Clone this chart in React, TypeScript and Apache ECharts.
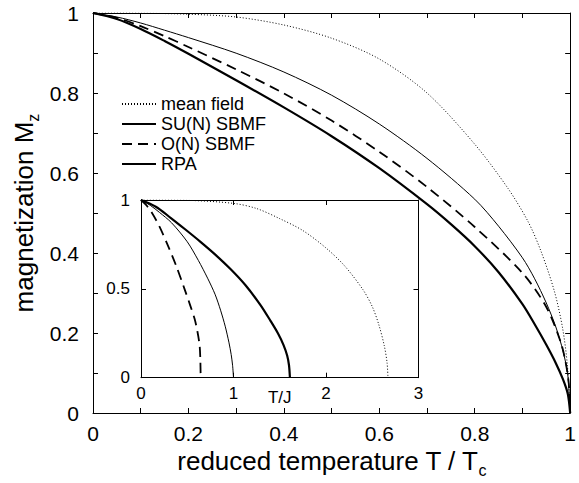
import React, { useEffect, useRef } from 'react';
import * as echarts from 'echarts';

const FONT = '"Liberation Sans", Arial, Helvetica, sans-serif';

// Main plot: reduced temperature T/Tc vs magnetization Mz
const mainMeanField: number[][] = [[0, 1], [0.1, 0.9995], [0.2, 0.997], [0.3, 0.99], [0.4, 0.97], [0.5, 0.937], [0.6, 0.885], [0.7, 0.8], [0.8, 0.672], [0.87, 0.561], [0.912, 0.478], [0.939, 0.404], [0.967, 0.304], [0.984, 0.213], [0.994, 0.122], [1, 0]];
const mainSUN: number[][] = [[0, 1], [0.05, 0.985], [0.1, 0.96], [0.15, 0.93], [0.2, 0.898], [0.3, 0.832], [0.4, 0.764], [0.5, 0.692], [0.6, 0.612], [0.7, 0.522], [0.75, 0.472], [0.8, 0.417], [0.85, 0.352], [0.9, 0.272], [0.925, 0.223], [0.95, 0.1705], [0.97, 0.1245], [0.985, 0.084], [0.995, 0.048], [1, 0]];
const mainON: number[][] = [[0, 1], [0.05, 0.988], [0.1, 0.967], [0.15, 0.942], [0.2, 0.915], [0.3, 0.859], [0.4, 0.799], [0.5, 0.731], [0.6, 0.653], [0.7, 0.565], [0.8, 0.465], [0.9, 0.35], [0.95, 0.265], [0.98, 0.178], [0.99, 0.13], [0.997, 0.075], [1, 0]];
const mainRPA: number[][] = [[0, 1], [0.05, 0.99], [0.1, 0.975], [0.15, 0.957], [0.2, 0.9385], [0.3, 0.8995], [0.4, 0.8525], [0.5, 0.7945], [0.6, 0.7225], [0.7, 0.6365], [0.8, 0.5345], [0.85, 0.467], [0.9, 0.388], [0.925, 0.337], [0.95, 0.275], [0.97, 0.215], [0.985, 0.155], [0.995, 0.095], [1, 0]];

// Inset: T/J vs magnetization
const insetMeanField: number[][] = [[0, 1], [0.5, 0.998], [1, 0.981], [1.25, 0.952], [1.5, 0.895], [1.75, 0.828], [2, 0.73], [2.2, 0.63], [2.4, 0.495], [2.5, 0.4], [2.57, 0.3], [2.63, 0.18], [2.66, 0.085], [2.67, 0]];
const insetSUN: number[][] = [[0, 1], [0.16, 0.962], [0.32, 0.9], [0.48, 0.834], [0.64, 0.766], [0.8, 0.694], [0.97, 0.61], [1.13, 0.52], [1.29, 0.41], [1.4, 0.32], [1.48, 0.25], [1.54, 0.185], [1.58, 0.125], [1.6, 0.07], [1.61, 0]];
const insetRPA: number[][] = [[0, 1], [0.1, 0.97], [0.2, 0.93], [0.33, 0.872], [0.5, 0.765], [0.62, 0.66], [0.72, 0.56], [0.8, 0.47], [0.86, 0.38], [0.91, 0.29], [0.95, 0.2], [0.975, 0.13], [0.99, 0.07], [1.0, 0]];
const insetON: number[][] = [[0, 1], [0.05, 0.975], [0.11, 0.935], [0.2, 0.85], [0.29, 0.745], [0.38, 0.63], [0.47, 0.5], [0.53, 0.41], [0.58, 0.33], [0.61, 0.26], [0.634, 0.18], [0.642, 0.09], [0.645, 0]];

const legendNames = ['mean field', 'SU(N) SBMF', 'O(N) SBMF', 'RPA'];

const styles: any[] = [
  { width: 1, type: [1, 2] },
  { width: 2.2, type: 'solid' },
  { width: 1.8, type: [10, 6] },
  { width: 1, type: 'solid' },
];

function axis(extra: any) {
  return {
    type: 'value',
    splitLine: { show: false },
    axisLine: { show: true, onZero: false, lineStyle: { color: '#000', width: 1 } },
    axisTick: { show: true, inside: true, length: 5, lineStyle: { color: '#000', width: 1 } },
    ...extra,
  };
}

export default function App() {
  const ref = useRef<HTMLDivElement>(null);
  useEffect(() => {
    document.body.style.margin = '0';
    const chart = echarts.init(ref.current!, null, { renderer: 'svg' });
    const mainLabel = { fontSize: 21, color: '#000', fontFamily: FONT };
    const insetLabel = { fontSize: 17, color: '#000', fontFamily: FONT };
    const minor = { show: true, splitNumber: 2, length: 5, lineStyle: { color: '#000', width: 1 } };
    const richName = {
      a: { fontSize: 26, lineHeight: 26, verticalAlign: 'top', color: '#000', fontFamily: FONT },
      b: { fontSize: 16, lineHeight: 16, verticalAlign: 'top', padding: [14, 0, 0, 0], color: '#000', fontFamily: FONT },
    };
    const mainData = [mainMeanField, mainSUN, mainON, mainRPA];
    const insetData = [insetMeanField, insetSUN, insetON, insetRPA];
    const series: any[] = [];
    legendNames.forEach((n, i) => {
      series.push({
        type: 'line', name: n, xAxisIndex: 0, yAxisIndex: 0, data: mainData[i],
        symbol: 'none', showSymbol: false, smooth: 0.3,
        color: '#000', lineStyle: { color: '#000', ...styles[i] }, z: 3,
      });
      series.push({
        type: 'line', name: n + ' (inset)', xAxisIndex: 2, yAxisIndex: 2, data: insetData[i],
        symbol: 'none', showSymbol: false, smooth: 0.3,
        color: '#000', lineStyle: { color: '#000', ...styles[i] }, z: 5,
      });
    });
    chart.setOption({
      animation: false,
      backgroundColor: '#fff',
      grid: [
        { left: 93, top: 13, width: 483, height: 403, containLabel: false },
        { left: 141, top: 200, width: 277.5, height: 177.7, show: true, backgroundColor: '#fff', borderWidth: 0, z: 4 },
      ],
      xAxis: [
        axis({
          gridIndex: 0, position: 'bottom', min: 0, max: 1, interval: 0.2, minorTick: minor,
          axisLabel: { ...mainLabel, margin: 10 },
          name: '{a|reduced temperature T / T}{b|c}', nameLocation: 'middle', nameGap: 35, nameMoveOverlap: false,
          nameTextStyle: { rich: richName },
        }),
        axis({ gridIndex: 0, position: 'top', min: 0, max: 1, interval: 0.2, minorTick: minor, axisLabel: { show: false } }),
        axis({
          gridIndex: 1, position: 'bottom', min: 0, max: 3, interval: 1,
          axisLabel: { ...insetLabel, margin: 7 },
          name: 'T/J', nameLocation: 'middle', nameGap: 11, nameMoveOverlap: false,
          nameTextStyle: { ...insetLabel },
          z: 6,
        }),
        axis({ gridIndex: 1, position: 'top', min: 0, max: 3, interval: 1, axisLabel: { show: false }, z: 6 }),
      ],
      yAxis: [
        axis({
          gridIndex: 0, position: 'left', min: 0, max: 1, interval: 0.2, minorTick: minor,
          axisLabel: { ...mainLabel, margin: 14 },
          name: '{a|magnetization M}{b|z}', nameLocation: 'middle', nameGap: 56, nameMoveOverlap: false,
          nameTextStyle: { rich: richName },
        }),
        axis({ gridIndex: 0, position: 'right', min: 0, max: 1, interval: 0.2, minorTick: minor, axisLabel: { show: false } }),
        axis({
          gridIndex: 1, position: 'left', min: 0, max: 1, interval: 0.5,
          axisLabel: { ...insetLabel, margin: 11 }, z: 6,
        }),
        axis({ gridIndex: 1, position: 'right', min: 0, max: 1, interval: 0.5, axisLabel: { show: false }, z: 6 }),
      ],
      legend: {
        orient: 'vertical', left: 116, top: 90, itemWidth: 34, itemHeight: 10, itemGap: 2,
        data: legendNames, selectedMode: false,
        textStyle: { fontSize: 18, color: '#000', fontFamily: FONT },
        itemStyle: { color: 'rgba(0,0,0,0)', borderColor: 'rgba(0,0,0,0)', borderWidth: 0, opacity: 0 },
      },
      series,
    });
    return () => chart.dispose();
  }, []);
  return <div ref={ref} style={{ width: 579, height: 483 }} />;
}
